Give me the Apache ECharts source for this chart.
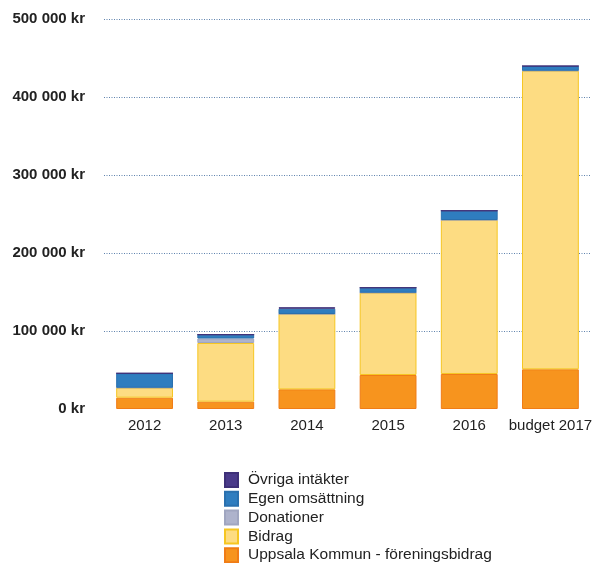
<!DOCTYPE html>
<html>
<head>
<meta charset="utf-8">
<script src="https://cdn.jsdelivr.net/npm/echarts@6/dist/echarts.min.js"></script>
<style>html,body{margin:0;padding:0;background:#fff;}#c{width:597px;height:563px;}</style>
</head>
<body>
<div id="c"></div>
<script>
const categories = ['2012', '2013', '2014', '2015', '2016', 'budget 2017'];
const uppsala = [14500, 9400, 25200, 43600, 44900, 50900];
const bidrag = [12800, 75200, 96600, 105500, 197400, 382800];
const donationer = [0, 5800, 0, 0, 0, 0];
const egen = [18500, 4900, 6800, 6400, 11900, 6000];
const ovriga = [0, 0, 1800, 0, 0, 0];
const yTicks = [0, 100000, 200000, 300000, 400000, 500000];

const chart = echarts.init(document.getElementById('c'));
const font = 'Liberation Sans, Arial, sans-serif';
function ser(name, data, color, border) {
  return {
    name: name, type: 'bar', stack: 'total', data: data, barWidth: '70%',
    itemStyle: { color: color, borderColor: border, borderWidth: 1 },
    emphasis: { disabled: true }
  };
}
chart.setOption({
  animation: false,
  grid: { left: 104, right: 6, top: 19, bottom: 154 },
  legend: {
    orient: 'vertical', left: 219, top: 467, height: 200, itemWidth: 13, itemHeight: 14, itemGap: 2.8,
    icon: 'rect',
    textStyle: { fontFamily: font, fontSize: 15.5, lineHeight: 15, color: '#222', padding: [0, 0, 0, 5] },
    data: ['Övriga intäkter', 'Egen omsättning', 'Donationer', 'Bidrag', 'Uppsala Kommun - föreningsbidrag']
  },
  xAxis: {
    type: 'category', data: categories,
    axisLine: { show: false }, axisTick: { show: false },
    axisLabel: { interval: 0, fontFamily: font, fontSize: 15, color: '#222', margin: 9 }
  },
  yAxis: {
    type: 'value', min: 0, max: 500000, interval: 100000,
    axisLine: { show: false }, axisTick: { show: false },
    axisLabel: {
      fontFamily: font, fontSize: 15, fontWeight: 'bold', color: '#222', margin: 19,
      formatter: function (v) { return yTicks.indexOf(v) >= 0 ? String(v).replace(/\B(?=(\d{3})+(?!\d))/g, ' ') + ' kr' : ''; }
    },
    splitLine: { show: true, lineStyle: { type: [1, 1.5], color: ['rgba(0,0,0,0)', '#5f82ad', '#5f82ad', '#5f82ad', '#5f82ad', '#5f82ad'], width: 1 } }
  },
  series: [
    ser('Uppsala Kommun - föreningsbidrag', uppsala, '#F7941E', '#F07C16'),
    ser('Bidrag', bidrag, '#FDDC82', '#F6C622'),
    ser('Donationer', donationer, '#AEB3CC', '#A0A6C0'),
    ser('Egen omsättning', egen, '#2F7DBF', '#2A70AE'),
    ser('Övriga intäkter', ovriga, '#4A3A8A', '#3E3078')
  ]
});
</script>
</body>
</html>
